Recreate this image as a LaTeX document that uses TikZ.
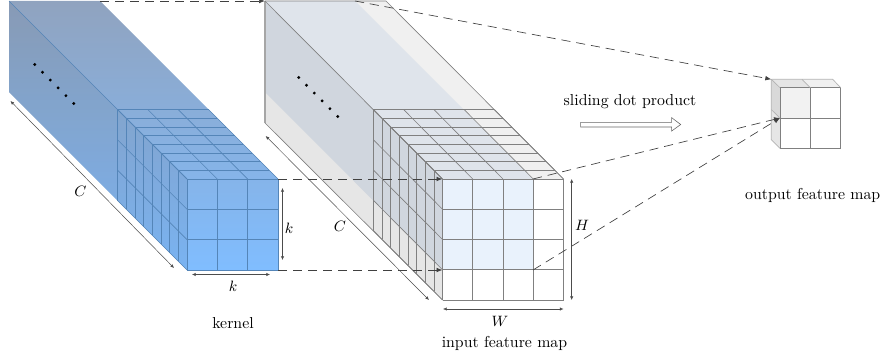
\documentclass[tikz,border=0pt]{standalone}
\usepackage{color}
\usetikzlibrary{calc,arrows.meta}

\definecolor{kernTop}{HTML}{90A3BF}
\definecolor{kernBot}{HTML}{80BDFF}
\definecolor{kernLine}{HTML}{5485B8}
\definecolor{cubeLine}{HTML}{808080}
\definecolor{cubeSide}{HTML}{E6E6E6}
\definecolor{cubeUp}{HTML}{F0F0F0}
\definecolor{tintSide}{HTML}{D0D6DE}
\definecolor{tintUp}{HTML}{DFE4EB}
\definecolor{tintFront}{HTML}{E9F2FC}

\tikzset{
  every node/.style={font=\fontsize{9.5}{11}\selectfont},
  kgrid/.style={draw=kernLine,line width=0.35pt},
  cgrid/.style={draw=cubeLine,line width=0.4pt},
  dimline/.style={draw=black!70,line width=0.3pt,{Latex[length=2.2pt,width=2pt]}-{Latex[length=2.2pt,width=2pt]}},
  flow/.style={draw=black!75,line width=0.4pt,dash pattern=on 5.5pt off 3.5pt,-{Latex[length=3.6pt,width=2.8pt]}},
  dotmark/.style={circle,fill=black,inner sep=0pt,minimum size=1.9pt}
}

\begin{document}
\begin{tikzpicture}[x=0.6pt,y=-0.6pt]
  \useasboundingbox (0,0) rectangle (883,358);

  %% Corners of the three blocks
  \coordinate (KBL) at (9,1);
  \coordinate (KBR) at (100,1);
  \coordinate (KBB) at (9,92);
  \coordinate (KFL) at (187,179);
  \coordinate (KFR) at (278,179);
  \coordinate (KDL) at (187,270);
  \coordinate (KDR) at (278,270);
  \coordinate (IBL) at (265,1);
  \coordinate (IBR) at (386,1);
  \coordinate (IBB) at (265,123);
  \coordinate (IBM) at (355,1);
  \coordinate (IBK) at (265,92);
  \coordinate (IFL) at (442.5,179);
  \coordinate (IFM) at (533,179);
  \coordinate (IFR) at (563.5,179);
  \coordinate (IKL) at (442.5,270);
  \coordinate (IKM) at (533,270);
  \coordinate (IDL) at (442.5,300);
  \coordinate (IDR) at (563.5,300);
  \coordinate (OBL) at (771.3,79.3);
  \coordinate (OFL) at (780,87.7);
  \coordinate (OMR) at (780,118);

  %% Kernel block: one gradient over the whole outline
  \begin{scope}
    \clip (KBL) -- (KBR) -- (KFR) -- (KDR) -- (KDL) -- (KBB) -- cycle;
    \shade[top color=kernTop,bottom color=kernBot] (0,1) rectangle (280,270);
    \fill[black,opacity=0.05] (KBL) -- (KFL) -- (KDL) -- (KBB) -- cycle;
  \end{scope}
  \draw[kgrid] (KBL) -- (KFL);
  \foreach \i in {0,1,...,8}
  {
    \draw[kgrid] ($(117.5,109.5)+(\i*8.69,\i*8.69)$) -- ++(91,0);
    \draw[kgrid] ($(117.5,109.5)+(\i*8.69,\i*8.69)$) -- ++(0,91);
  }
  \foreach \j in {0,1,2,3}
  {
    \draw[kgrid] ($(117.5,109.5)+(\j*30.33,0)$) -- ++(69.5,69.5);
    \draw[kgrid] ($(117.5,109.5)+(0,\j*30.33)$) -- ++(69.5,69.5);
    \draw[kgrid] ($(KFL)+(\j*30.33,0)$) -- ++(0,91);
    \draw[kgrid] ($(KFL)+(0,\j*30.33)$) -- ++(91,0);
  }

  %% Input block: plain faces, then the part the kernel covers
  \fill[cubeSide] (IBL) -- (IFL) -- (IDL) -- (IBB) -- cycle;
  \fill[cubeUp] (IBL) -- (IBR) -- (IFR) -- (IFL) -- cycle;
  \fill[tintSide] (IBL) -- (IFL) -- (IKL) -- (IBK) -- cycle;
  \fill[tintUp] (IBL) -- (IBM) -- (IFM) -- (IFL) -- cycle;
  \fill[tintFront] (IFL) rectangle (IKM);
  \draw[cgrid,draw=black!35,line width=0.7pt] (IBB) -- (IBL);
  \draw[cgrid] (IBL) -- (IBR) -- (IFR);
  \draw[cgrid] (IBL) -- (IFL);
  \draw[cgrid] (IBB) -- (IDL);
  \foreach \i in {0,1,...,8}
  {
    \draw[cgrid] ($(373.3,109.5)+(\i*8.69,\i*8.69)$) -- ++(121,0);
    \draw[cgrid] ($(373.3,109.5)+(\i*8.69,\i*8.69)$) -- ++(0,121);
  }
  \foreach \j in {0,1,...,4}
  {
    \draw[cgrid] ($(373.3,109.5)+(\j*30.25,0)$) -- ++(69.2,69.5);
    \draw[cgrid] ($(373.3,109.5)+(0,\j*30.25)$) -- ++(69.2,69.5);
    \draw[cgrid] ($(IFL)+(\j*30.25,0)$) -- ++(0,121);
    \draw[cgrid] ($(IFL)+(0,\j*30.25)$) -- ++(121,0);
  }

  %% Output block
  \fill[cubeSide] (OBL) -- (OFL) -- (780,148.3) -- (771.3,139.6) -- cycle;
  \fill[black!15] (OBL) -- (OFL) -- (OMR) -- (771.3,109.6) -- cycle;
  \fill[black!10] (OBL) -- (802,79.3) -- (810.4,87.7) -- (OFL) -- cycle;
  \fill[cubeUp] (802,79.3) -- (832.7,79.3) -- (840.7,87.7) -- (810.4,87.7) -- cycle;
  \fill[black!5] (OFL) rectangle (810.4,118);
  \draw[cgrid] (780,87.7) rectangle (840.7,148.3);
  \draw[cgrid] (810.4,87.7) -- (810.4,148.3);
  \draw[cgrid] (780,118) -- (840.7,118);
  \draw[cgrid,draw=black!30] (OBL) -- (832.7,79.3) -- (840.7,87.7);
  \draw[cgrid,draw=black!30] (OBL) -- (771.3,139.6) -- (780,148.3);
  \draw[cgrid,draw=black!30] (OBL) -- (OFL);
  \draw[cgrid,draw=black!30] (771.3,109.6) -- (OMR);
  \draw[cgrid,draw=black!30] (802,79.3) -- (810.4,87.7);

  %% Dots along the channels
  \foreach \i in {0,1,...,5}
  {
    \node[dotmark] (KD\i) at ($(34.7,64.5)+(\i*7.8,\i*7.8)$) {};
    \node[dotmark] (ID\i) at ($(298.7,77.5)+(\i*7.8,\i*7.8)$) {};
  }

  %% Projection lines
  \draw[flow] (KBR) -- (IBL);
  \draw[flow] (KFR) -- (IFL);
  \draw[flow] (KDR) -- (IKL);
  \draw[flow] (IBM) -- (OBL);
  \draw[flow] (IFM) -- (OMR);
  \draw[flow] (IKM) -- (OMR);

  %% Sizes
  \coordinate (KC0) at (10.5,101);
  \coordinate (KC1) at (174,268);
  \coordinate (IC0) at (265.7,136);
  \coordinate (IC1) at (429,300);
  \draw[dimline] (KC0) -- (KC1);
  \draw[dimline] (IC0) -- (IC1);
  \coordinate (KH0) at (282.5,188);
  \coordinate (KH1) at (282.5,260);
  \coordinate (KW0) at (192,274.5);
  \coordinate (KW1) at (270,274.5);
  \coordinate (IH0) at (571.7,179);
  \coordinate (IH1) at (571.7,300);
  \coordinate (IW0) at (443,309);
  \coordinate (IW1) at (563.5,309);
  \draw[dimline] (KH0) -- (KH1);
  \draw[dimline] (KW0) -- (KW1);
  \draw[dimline] (IH0) -- (IH1);
  \draw[dimline] (IW0) -- (IW1);

  %% Labels
  \node (LKC) at (80.5,191) {$C$};
  \node (LKH) at (289,228) {$k$};
  \node (LKW) at (233,286) {$k$};
  \node (LIC) at (340,226) {$C$};
  \node (LIH) at (582,225) {$H$};
  \node (LIW) at (500,321) {$W$};
  \node (KERNEL) at (233,323) {kernel};
  \node (INPUT) at (504.5,343) {input feature map};
  \node (SLIDE) at (630,101.5) {sliding dot product};
  \node (OUTPUT) at (812.7,195.5) {output feature map};

  %% Hollow arrow under the sliding label
  \draw[draw=black!60,fill=white,line width=0.35pt] (580.7,122.3) -- (671.7,122.3) -- (671.7,117.7)
    -- (680.7,124.5) -- (671.7,131) -- (671.7,127) -- (580.7,127) -- cycle;
\end{tikzpicture}
\end{document}
